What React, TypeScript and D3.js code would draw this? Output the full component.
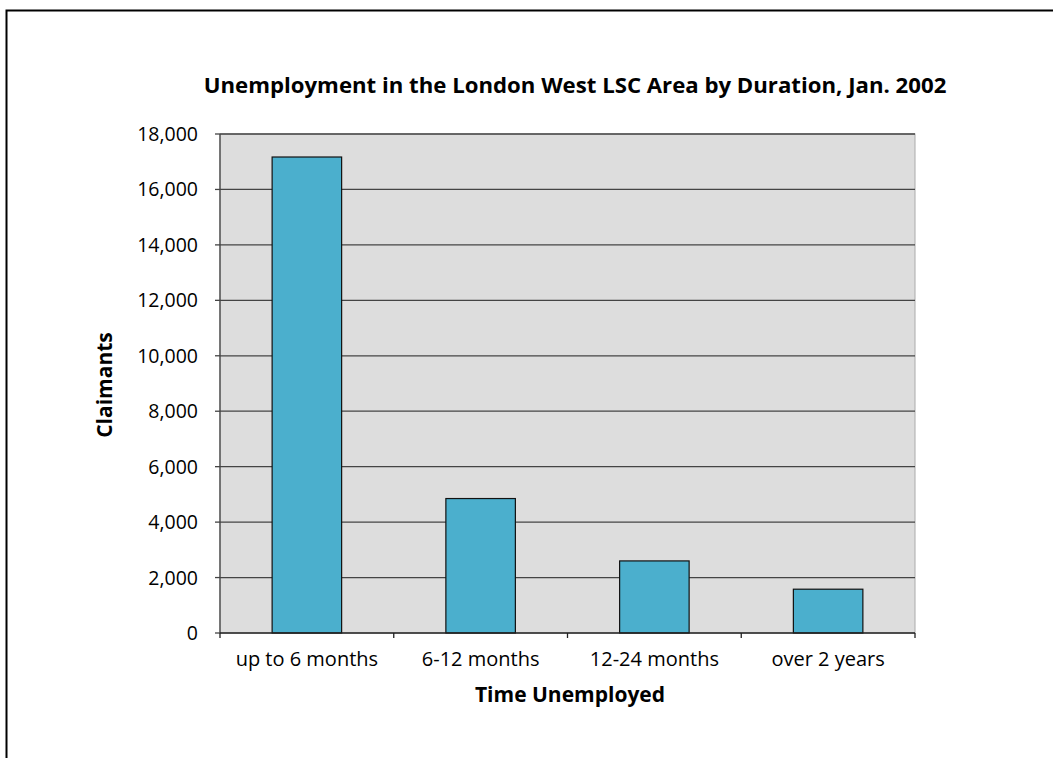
import React from "react";
import * as d3 from "d3";

const categories = ["up to 6 months", "6-12 months", "12-24 months", "over 2 years"];
const claimants = [17170, 4850, 2600, 1580];
const yTicks = [0, 2000, 4000, 6000, 8000, 10000, 12000, 14000, 16000, 18000];

const W = 1053;
const H = 758;
const FONT = "'Open Sans', 'Noto Sans', sans-serif";

export default function App() {
  const left = 220, right = 915, top = 134, bottom = 633;
  const x = d3.scaleBand<string>().domain(categories).range([left, right]).paddingInner(0).paddingOuter(0);
  const y = d3.scaleLinear().domain([0, 18000]).range([bottom, top]);
  const fmt = d3.format(",");
  const bw = x.bandwidth() * 0.4;
  const bounds = [left, ...categories.map((c) => (x(c) as number) + x.bandwidth())];

  return (
    <svg width={W} height={H} style={{ position: "absolute", left: 0, top: 0 }}>
      <rect x={0} y={0} width={W} height={H} fill="#fff" />
      <path d={`M6.5,${H} V10.5 H${W}`} fill="none" stroke="#000" strokeWidth={2} />
      <text x={575} y={93} textAnchor="middle" fontFamily={FONT} fontWeight="bold" fontSize={22.2} fill="#000">
        Unemployment in the London West LSC Area by Duration, Jan. 2002
      </text>
      <rect x={left} y={top} width={right - left} height={bottom - top} fill="#dddddd" stroke="#aaa" strokeWidth={1} />
      {yTicks.filter((t) => t > 0).map((t) => (
        <line key={t} x1={left} x2={right} y1={y(t)} y2={y(t)} stroke="#444" strokeWidth={1.3} />
      ))}
      {categories.map((c, i) => (
        <rect
          key={c}
          x={(x(c) as number) + (x.bandwidth() - bw) / 2}
          y={y(claimants[i])}
          width={bw}
          height={bottom - y(claimants[i])}
          fill="#4bafcd"
          stroke="#111"
          strokeWidth={1.2}
        />
      ))}
      <line x1={left} x2={left} y1={top} y2={bottom} stroke="#444" strokeWidth={1.3} />
      <line x1={left} x2={right} y1={bottom} y2={bottom} stroke="#222" strokeWidth={1.3} />
      {yTicks.map((t) => (
        <g key={t}>
          <line x1={left - 5} x2={left} y1={y(t)} y2={y(t)} stroke="#444" strokeWidth={1.3} />
          <text x={198} y={y(t) + 7} textAnchor="end" fontFamily={FONT} fontSize={19.5} fill="#000">
            {fmt(t)}
          </text>
        </g>
      ))}
      {bounds.map((b) => (
        <line key={b} x1={b} x2={b} y1={bottom} y2={bottom + 5} stroke="#222" strokeWidth={1.3} />
      ))}
      {categories.map((c) => (
        <text key={c} x={(x(c) as number) + x.bandwidth() / 2} y={666} textAnchor="middle" fontFamily={FONT} fontSize={20} fill="#000">
          {c}
        </text>
      ))}
      <text x={570} y={702} textAnchor="middle" fontFamily={FONT} fontWeight="bold" fontSize={21} fill="#000">
        Time Unemployed
      </text>
      <text transform={`translate(112,385) rotate(-90)`} textAnchor="middle" fontFamily={FONT} fontWeight="bold" fontSize={21} fill="#000">
        Claimants
      </text>
    </svg>
  );
}
